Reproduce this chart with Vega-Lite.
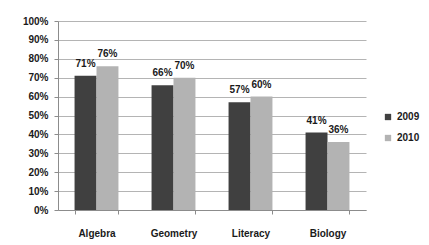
{
  "$schema": "https://vega.github.io/schema/vega-lite/v6.json",
  "width": 308,
  "height": 189,
  "autosize": {"type": "none"},
  "padding": {"left": 58, "top": 21, "right": 63, "bottom": 35},
  "background": "white",
  "config": {
    "view": {"stroke": null},
    "font": "Liberation Sans",
    "axis": {"labelFont": "Liberation Sans", "labelFontWeight": "bold", "labelFontSize": 10, "labelColor": "#1a1a1a"}
  },
  "data": {
    "values": [
      {"subject": "Algebra", "year": "2009", "value": 0.71},
      {"subject": "Algebra", "year": "2010", "value": 0.76},
      {"subject": "Geometry", "year": "2009", "value": 0.66},
      {"subject": "Geometry", "year": "2010", "value": 0.70},
      {"subject": "Literacy", "year": "2009", "value": 0.57},
      {"subject": "Literacy", "year": "2010", "value": 0.60},
      {"subject": "Biology", "year": "2009", "value": 0.41},
      {"subject": "Biology", "year": "2010", "value": 0.36}
    ]
  },
  "encoding": {
    "x": {
      "field": "subject", "type": "nominal", "sort": ["Algebra", "Geometry", "Literacy", "Biology"],
      "scale": {"paddingInner": 0.43, "paddingOuter": 0.215},
      "axis": {"title": null, "labelAngle": 0, "tickBand": "extent", "tickSize": 4, "tickColor": "#8c8c8c", "domainColor": "#8c8c8c", "labelPadding": 14, "labelFontSize": 10}
    },
    "xOffset": {"field": "year", "type": "nominal"},
    "y": {
      "field": "value", "type": "quantitative",
      "scale": {"domain": [0, 1], "nice": false},
      "axis": {"title": null, "format": ".0%", "values": [0, 0.1, 0.2, 0.3, 0.4, 0.5, 0.6, 0.7, 0.8, 0.9, 1], "tickSize": 4, "tickColor": "#8c8c8c", "domainColor": "#8c8c8c", "gridColor": "#b4b4b4", "labelPadding": 6, "domain": true}
    }
  },
  "layer": [
    {
      "mark": {"type": "bar"},
      "encoding": {
        "color": {
          "field": "year", "type": "nominal",
          "scale": {"domain": ["2009", "2010"], "range": ["#404040", "#b3b3b3"]},
          "legend": {"title": null, "orient": "none", "legendX": 325, "legendY": 91, "symbolType": "square", "symbolSize": 40, "rowPadding": 11, "labelFont": "Liberation Sans", "labelFontWeight": "bold", "labelFontSize": 10, "labelColor": "#1a1a1a", "symbolStrokeWidth": 0}
        }
      }
    },
    {
      "mark": {"type": "text", "dy": -7, "baseline": "bottom", "font": "Liberation Sans", "fontWeight": "bold", "fontSize": 10, "color": "#1a1a1a"},
      "encoding": {
        "text": {"field": "value", "type": "quantitative", "format": ".0%"}
      }
    }
  ]
}
